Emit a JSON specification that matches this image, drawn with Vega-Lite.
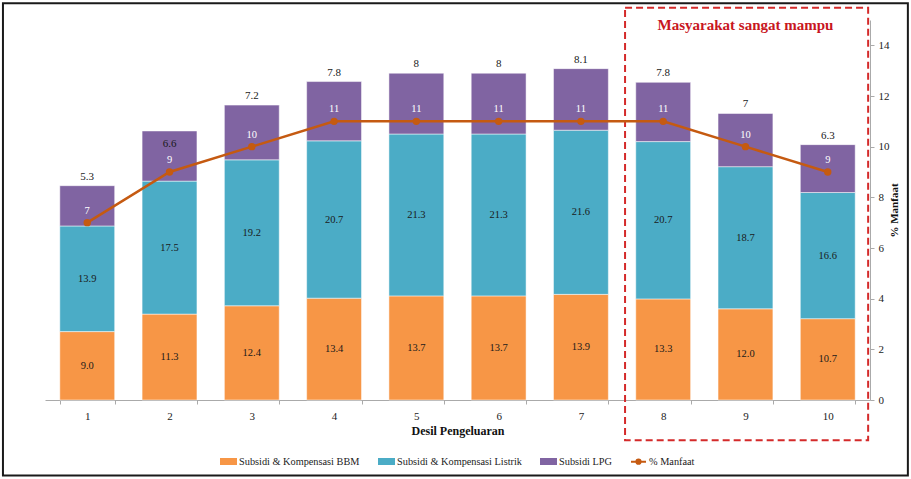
{
  "$schema": "https://vega.github.io/schema/vega-lite/v6.json",
  "width": 825,
  "height": 380,
  "autosize": {"type": "none"},
  "padding": {"left": 45, "top": 20, "right": 41, "bottom": 79},
  "background": "white",
  "config": {
    "font": "Liberation Serif",
    "view": {"stroke": null},
    "axis": {
      "labelFont": "Liberation Serif",
      "titleFont": "Liberation Serif",
      "labelFontSize": 11,
      "labelColor": "#222222",
      "titleFontSize": 12,
      "titleFontWeight": "bold",
      "titleColor": "#111111",
      "domainColor": "#AAAAAA",
      "tickColor": "#AAAAAA",
      "grid": false,
      "tickSize": 4
    },
    "legend": {
      "labelFont": "Liberation Serif",
      "labelFontSize": 10.3,
      "labelColor": "#222222",
      "layout": {"bottom": {"anchor": "middle"}}
    }
  },
  "datasets": {
    "bars": [
      {"d": 1, "s": "Subsidi & Kompensasi BBM", "v": 9.0},
      {"d": 1, "s": "Subsidi & Kompensasi Listrik", "v": 13.9},
      {"d": 1, "s": "Subsidi LPG", "v": 5.3},
      {"d": 2, "s": "Subsidi & Kompensasi BBM", "v": 11.3},
      {"d": 2, "s": "Subsidi & Kompensasi Listrik", "v": 17.5},
      {"d": 2, "s": "Subsidi LPG", "v": 6.6},
      {"d": 3, "s": "Subsidi & Kompensasi BBM", "v": 12.4},
      {"d": 3, "s": "Subsidi & Kompensasi Listrik", "v": 19.2},
      {"d": 3, "s": "Subsidi LPG", "v": 7.2},
      {"d": 4, "s": "Subsidi & Kompensasi BBM", "v": 13.4},
      {"d": 4, "s": "Subsidi & Kompensasi Listrik", "v": 20.7},
      {"d": 4, "s": "Subsidi LPG", "v": 7.8},
      {"d": 5, "s": "Subsidi & Kompensasi BBM", "v": 13.7},
      {"d": 5, "s": "Subsidi & Kompensasi Listrik", "v": 21.3},
      {"d": 5, "s": "Subsidi LPG", "v": 8},
      {"d": 6, "s": "Subsidi & Kompensasi BBM", "v": 13.7},
      {"d": 6, "s": "Subsidi & Kompensasi Listrik", "v": 21.3},
      {"d": 6, "s": "Subsidi LPG", "v": 8},
      {"d": 7, "s": "Subsidi & Kompensasi BBM", "v": 13.9},
      {"d": 7, "s": "Subsidi & Kompensasi Listrik", "v": 21.6},
      {"d": 7, "s": "Subsidi LPG", "v": 8.1},
      {"d": 8, "s": "Subsidi & Kompensasi BBM", "v": 13.3},
      {"d": 8, "s": "Subsidi & Kompensasi Listrik", "v": 20.7},
      {"d": 8, "s": "Subsidi LPG", "v": 7.8},
      {"d": 9, "s": "Subsidi & Kompensasi BBM", "v": 12.0},
      {"d": 9, "s": "Subsidi & Kompensasi Listrik", "v": 18.7},
      {"d": 9, "s": "Subsidi LPG", "v": 7},
      {"d": 10, "s": "Subsidi & Kompensasi BBM", "v": 10.7},
      {"d": 10, "s": "Subsidi & Kompensasi Listrik", "v": 16.6},
      {"d": 10, "s": "Subsidi LPG", "v": 6.3}
    ],
    "pct": [
      {"d": 1, "p": 7},
      {"d": 2, "p": 9},
      {"d": 3, "p": 10},
      {"d": 4, "p": 11},
      {"d": 5, "p": 11},
      {"d": 6, "p": 11},
      {"d": 7, "p": 11},
      {"d": 8, "p": 11},
      {"d": 9, "p": 10},
      {"d": 10, "p": 9}
    ],
    "one": [{"k": 1}]
  },
  "layer": [
    {
      "layer": [
        {
          "data": {"name": "bars"},
          "mark": {"type": "bar", "stroke": "#FFFFFF", "strokeWidth": 0.5},
          "encoding": {
            "x": {
              "field": "d", "type": "ordinal",
              "scale": {"paddingInner": 0.333, "paddingOuter": 0.18},
              "axis": {"labelAngle": 0, "tickBand": "extent", "title": "Desil Pengeluaran", "labelPadding": 6, "titlePadding": 4}
            },
            "y": {
              "field": "v", "type": "quantitative", "stack": "zero",
              "scale": {"domain": [0, 50], "nice": false},
              "axis": {"values": [0, 5, 10, 15, 20, 25, 30, 35, 40, 45, 50], "title": "Rp Triliun", "titleFontSize": 12.5, "labelPadding": 4, "titlePadding": 2}
            },
            "order": {"field": "s", "sort": "ascending"},
            "color": {
              "field": "s", "type": "nominal",
              "scale": {
                "domain": ["Subsidi & Kompensasi BBM", "Subsidi & Kompensasi Listrik", "Subsidi LPG", "% Manfaat"],
                "range": ["#F79646", "#4BACC6", "#8064A2", "#C55A11"]
              },
              "legend": {
                "orient": "bottom", "direction": "horizontal", "title": null, "offset": 17,
                "columnPadding": 15, "labelOffset": 2, "symbolSize": 225, "symbolStrokeWidth": 2,
                "symbolType": {"expr": "datum.value === '% Manfaat' ? 'M-1,0H1M-0.28,0A0.28,0.28 0 1,1 0.28,0A0.28,0.28 0 1,1 -0.28,0Z' : 'M-1,-0.33H1V0.33H-1Z'"},
                "symbolStrokeColor": {"expr": "datum.value === '% Manfaat' ? '#C55A11' : 'transparent'"}
              }
            }
          }
        },
        {
          "data": {"name": "bars"},
          "transform": [
            {"stack": "v", "groupby": ["d"], "sort": [{"field": "s", "order": "ascending"}], "as": ["y0", "y1"]},
            {"calculate": "(datum.y0 + datum.y1) / 2", "as": "mid"},
            {"filter": "datum.s !== 'Subsidi LPG'"}
          ],
          "mark": {"type": "text", "fontSize": 10.5, "color": "#1A1A1A", "baseline": "middle"},
          "encoding": {
            "x": {"field": "d", "type": "ordinal"},
            "y": {"field": "mid", "type": "quantitative", "axis": null},
            "text": {"field": "v", "type": "quantitative", "format": ".1f"}
          }
        },
        {
          "data": {"name": "bars"},
          "transform": [
            {"joinaggregate": [{"op": "sum", "field": "v", "as": "total"}], "groupby": ["d"]},
            {"filter": "datum.s === 'Subsidi LPG' && datum.d !== 2"}
          ],
          "mark": {"type": "text", "fontSize": 11, "color": "#1A1A1A", "baseline": "bottom", "dy": -4},
          "encoding": {
            "x": {"field": "d", "type": "ordinal"},
            "y": {"field": "total", "type": "quantitative", "axis": null},
            "text": {"field": "v", "type": "quantitative"}
          }
        },
        {
          "data": {"name": "bars"},
          "transform": [
            {"joinaggregate": [{"op": "sum", "field": "v", "as": "total"}], "groupby": ["d"]},
            {"filter": "datum.s === 'Subsidi LPG' && datum.d === 2"}
          ],
          "mark": {"type": "text", "fontSize": 11, "color": "#1A1A1A", "baseline": "top", "dy": 7},
          "encoding": {
            "x": {"field": "d", "type": "ordinal"},
            "y": {"field": "total", "type": "quantitative", "axis": null},
            "text": {"field": "v", "type": "quantitative"}
          }
        },
        {
          "data": {"name": "one"},
          "mark": {"type": "rect", "fill": null, "fillOpacity": 0, "stroke": "#D42A2A", "strokeWidth": 2, "strokeDash": [7, 4], "clip": false},
          "encoding": {
            "x": {"datum": 8, "type": "ordinal", "bandPosition": -0.195},
            "x2": {"datum": 10, "bandPosition": 1.236},
            "y": {"datum": 51.6, "type": "quantitative", "axis": null},
            "y2": {"datum": -5.3}
          }
        },
        {
          "data": {"name": "one"},
          "mark": {"type": "rect", "fill": null, "fillOpacity": 0, "stroke": "#1A1A1A", "strokeWidth": 2, "clip": false},
          "encoding": {
            "x": {"datum": 1, "type": "ordinal", "bandPosition": -1.036},
            "x2": {"datum": 10, "bandPosition": 1.96},
            "y": {"datum": 52.2, "type": "quantitative", "axis": null},
            "y2": {"datum": -9.95}
          }
        },
        {
          "data": {"name": "one"},
          "mark": {"type": "text", "text": "Masyarakat sangat mampu", "fontSize": 15, "fontWeight": "bold", "color": "#C8161E", "baseline": "middle"},
          "encoding": {
            "x": {"datum": 9, "type": "ordinal"},
            "y": {"datum": 49.3, "type": "quantitative", "axis": null}
          }
        }
      ]
    },
    {
      "layer": [
        {
          "data": {"name": "pct"},
          "mark": {"type": "line", "strokeWidth": 2.5, "point": {"filled": true, "size": 55}},
          "encoding": {
            "x": {"field": "d", "type": "ordinal"},
            "y": {
              "field": "p", "type": "quantitative",
              "scale": {"domain": [0, 15], "nice": false},
              "axis": {"orient": "right", "values": [0, 2, 4, 6, 8, 10, 12, 14], "title": "% Manfaat", "titleFontSize": 11, "titleAngle": -90, "labelPadding": 4, "titlePadding": 10}
            },
            "color": {"datum": "% Manfaat", "type": "nominal"}
          }
        },
        {
          "data": {"name": "pct"},
          "mark": {"type": "text", "fontSize": 10.5, "color": "#FFFFFF", "baseline": "bottom", "dy": -7},
          "encoding": {
            "x": {"field": "d", "type": "ordinal"},
            "y": {"field": "p", "type": "quantitative"},
            "text": {"field": "p", "type": "quantitative"}
          }
        }
      ]
    }
  ],
  "resolve": {"scale": {"y": "independent"}}
}
